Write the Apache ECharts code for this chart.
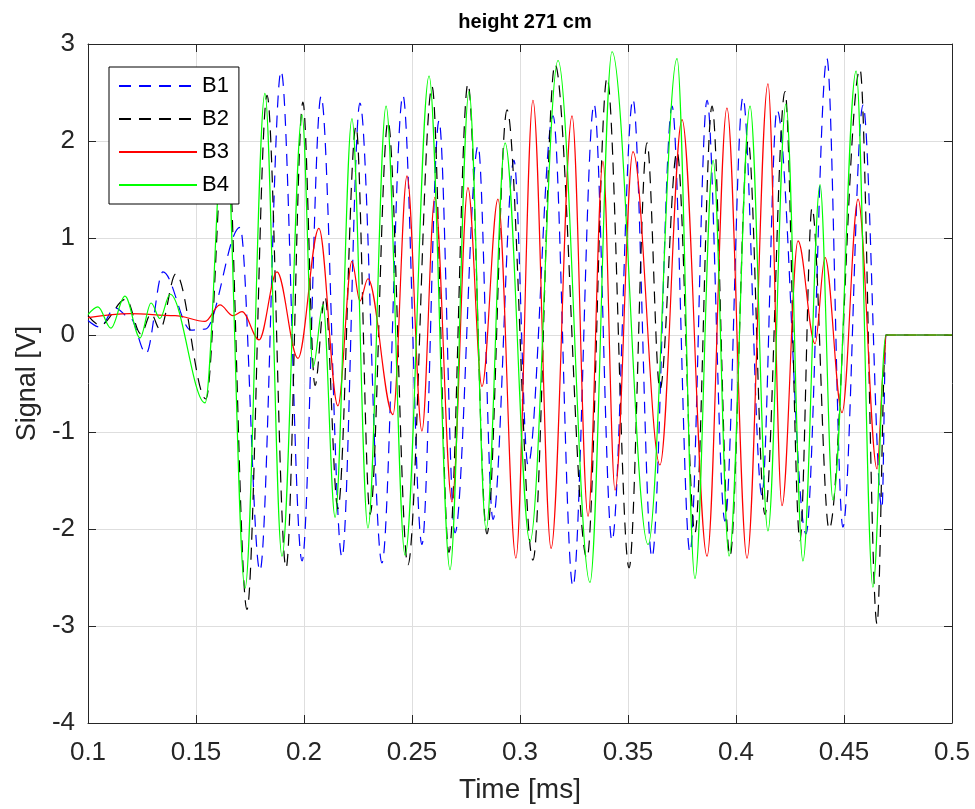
<!DOCTYPE html>
<html>
<head>
<meta charset="utf-8">
<script src="https://cdn.jsdelivr.net/npm/echarts@6/dist/echarts.min.js"></script>
<style>
html,body{margin:0;padding:0;background:#fff;}
#chart{width:975px;height:809px;}
</style>
</head>
<body>
<div id="chart"></div>
<script>
// ---- data (time in ms, signal in V) ----
const xTicks = [0.1, 0.15, 0.2, 0.25, 0.3, 0.35, 0.4, 0.45, 0.5];
const yTicks = [-4, -3, -2, -1, 0, 1, 2, 3];
const seriesNames = ['B1', 'B2', 'B3', 'B4'];

const b1T = [0.1000,0.1056,0.1125,0.1194,0.1269,0.1347,0.1477,0.1542,0.1704,0.1796,0.1894,0.1991,0.2079,0.2176,0.2259,0.2361,0.2458,0.2546,0.2625,0.2699,0.2806,0.2875,0.2972,0.3037,0.3153,0.3245,0.3343,0.3426,0.3523,0.3611,0.3704,0.3787,0.3866,0.3949,0.4032,0.4120,0.4190,0.4324,0.4421,0.4495,0.4588,0.4676,0.4694,0.5000];
const b1V = [0.15,0.08,0.28,0.18,-0.19,0.65,0.05,0.06,1.11,-2.43,2.72,-2.33,2.46,-2.29,2.39,-2.35,2.47,-2.16,2.21,-2.04,1.95,-1.90,1.80,-1.34,2.26,-2.59,2.38,-2.12,2.43,-2.29,2.36,-2.24,2.42,-1.92,2.45,-1.65,2.32,-2.05,2.85,-1.98,2.37,-1.79,0,0];

const b2T = [0.1000,0.1056,0.1176,0.1245,0.1292,0.1333,0.1407,0.1546,0.1639,0.1736,0.1829,0.1917,0.1995,0.2051,0.2097,0.2157,0.2241,0.2306,0.2389,0.2481,0.2593,0.2671,0.2759,0.2847,0.2940,0.3060,0.3162,0.3310,0.3403,0.3505,0.3588,0.3648,0.3727,0.3810,0.3889,0.3972,0.4056,0.4134,0.4227,0.4296,0.4352,0.4431,0.4574,0.4653,0.4694,0.5000];
const b2V = [0.20,0.10,0.37,0.01,0.22,0.06,0.63,-0.66,2.30,-2.83,2.47,-2.40,2.40,-0.52,0.40,-1.79,2.15,-1.85,2.20,-2.37,2.56,-2.24,2.59,-2.05,2.32,-2.32,2.79,-2.30,2.65,-2.40,1.98,-0.56,1.89,-2.04,2.36,-2.28,2.00,-1.85,2.51,-2.12,1.31,-2.00,2.74,-2.98,0,0];

const b3T = [0.1000,0.1194,0.1403,0.1542,0.1611,0.1671,0.1713,0.1792,0.1875,0.1972,0.2069,0.2157,0.2222,0.2259,0.2296,0.2412,0.2477,0.2546,0.2606,0.2685,0.2759,0.2824,0.2898,0.2981,0.3060,0.3144,0.3241,0.3315,0.3384,0.3440,0.3523,0.3648,0.3750,0.3866,0.3958,0.4051,0.4148,0.4213,0.4287,0.4366,0.4412,0.4491,0.4565,0.4653,0.4685,0.4694,0.5000];
const b3V = [0.18,0.22,0.20,0.14,0.31,0.20,0.24,-0.05,0.65,-0.24,1.10,-0.73,0.76,0.35,0.58,-0.82,1.64,-0.99,1.42,-1.72,1.52,-0.53,1.40,-2.30,2.42,-2.20,2.26,-1.87,1.79,-1.60,1.89,-1.34,2.22,-2.28,2.34,-2.30,2.59,-1.76,0.97,-0.09,0.80,-0.80,1.40,-1.38,-0.30,0,0];

const b4T = [0.1000,0.1046,0.1106,0.1171,0.1241,0.1292,0.1333,0.1380,0.1542,0.1634,0.1727,0.1819,0.1898,0.1991,0.2042,0.2088,0.2144,0.2222,0.2296,0.2380,0.2468,0.2579,0.2676,0.2764,0.2843,0.2931,0.3046,0.3176,0.3324,0.3426,0.3593,0.3727,0.3810,0.3894,0.3968,0.4065,0.4148,0.4231,0.4310,0.4389,0.4449,0.4556,0.4634,0.4694,0.5000];
const b4V = [0.21,0.29,0.07,0.40,-0.03,0.33,0.17,0.42,-0.70,2.35,-2.61,2.49,-2.28,2.27,-0.33,0.31,-1.88,2.23,-1.99,2.36,-2.27,2.67,-2.42,2.51,-2.00,1.98,-2.13,2.83,-2.55,2.92,-2.16,2.85,-2.51,1.80,-2.28,2.36,-2.02,2.38,-2.33,1.55,-1.70,2.72,-2.60,0,0];

const pairs = (t, v) => t.map((x, i) => [x, v[i]]);
const FONT = '"Liberation Sans", Arial, Helvetica, sans-serif';
const AX = '#262626';

const chart = echarts.init(document.getElementById('chart'), null, {renderer: 'canvas'});

function mkSeries(name, t, v, color, dashed) {
  return {
    name: name, type: 'line', data: pairs(t, v),
    xAxisIndex: 0, yAxisIndex: 0,
    showSymbol: false, symbol: 'none',
    smooth: 0.35, smoothMonotone: 'x',
    lineStyle: {color: color, width: 1.2, type: dashed ? [12, 8] : 'solid'},
    itemStyle: {color: color},
    emphasis: {disabled: true}, animation: false
  };
}

const xFmt = v => String(+v.toFixed(2));

function axisCommon(extra) {
  return Object.assign({
    axisLine: {show: true, onZero: false, lineStyle: {color: AX, width: 1}},
    axisTick: {show: true, inside: true, length: 8, lineStyle: {color: AX}}
  }, extra);
}

chart.setOption({
  animation: false,
  backgroundColor: '#fff',
  title: {
    text: 'height 271 cm', left: 520, top: 7, textAlign: 'center',
    textStyle: {fontFamily: FONT, fontSize: 20, fontWeight: 'bold', color: '#000'}
  },
  grid: {left: 88, right: 23, top: 44, bottom: 79, containLabel: false},
  legend: {
    orient: 'vertical', left: 109, top: 67,
    itemWidth: 78, itemHeight: 14, itemGap: 11,
    padding: [8, 10, 8, 9],
    borderColor: '#000', borderWidth: 1, backgroundColor: '#fff',
    itemStyle: {opacity: 0},
    textStyle: {fontFamily: FONT, fontSize: 22, color: '#000'},
    data: seriesNames
  },
  xAxis: [axisCommon({
    type: 'value', min: xTicks[0], max: xTicks[xTicks.length - 1], interval: 0.05,
    position: 'bottom',
    name: 'Time [ms]', nameLocation: 'middle', nameGap: 53,
    nameTextStyle: {fontFamily: FONT, fontSize: 28, color: AX},
    axisLabel: {fontFamily: FONT, fontSize: 26, color: AX, margin: 17, formatter: xFmt},
    splitLine: {show: true, lineStyle: {color: '#dedede', width: 1}}
  }), axisCommon({
    type: 'value', min: xTicks[0], max: xTicks[xTicks.length - 1], interval: 0.05,
    position: 'top',
    axisLabel: {show: false}, splitLine: {show: false}
  })],
  yAxis: [axisCommon({
    type: 'value', min: yTicks[0], max: yTicks[yTicks.length - 1], interval: 1,
    position: 'left',
    name: 'Signal [V]', nameLocation: 'middle', nameGap: 44,
    nameTextStyle: {fontFamily: FONT, fontSize: 27, color: AX},
    axisLabel: {fontFamily: FONT, fontSize: 26, color: AX, margin: 13},
    splitLine: {show: true, lineStyle: {color: '#dedede', width: 1}}
  }), axisCommon({
    type: 'value', min: yTicks[0], max: yTicks[yTicks.length - 1], interval: 1,
    position: 'right',
    axisLabel: {show: false}, splitLine: {show: false}
  })],
  series: [
    mkSeries('B1', b1T, b1V, '#0000ff', true),
    mkSeries('B2', b2T, b2V, '#000000', true),
    mkSeries('B3', b3T, b3V, '#ff0000', false),
    mkSeries('B4', b4T, b4V, '#00ff00', false)
  ]
});
</script>
</body>
</html>
